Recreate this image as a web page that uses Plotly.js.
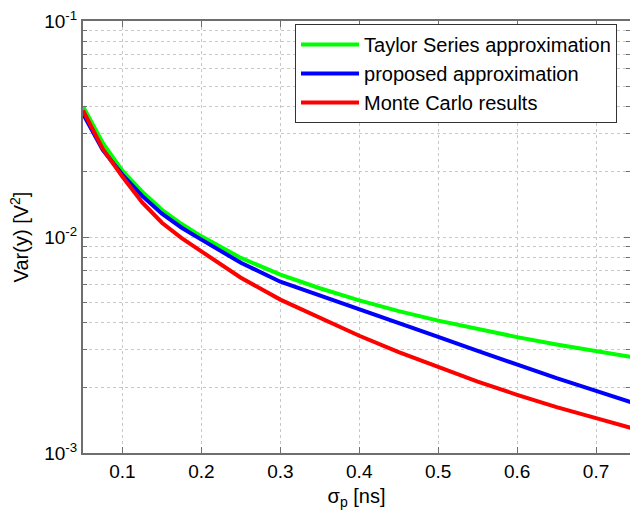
<!DOCTYPE html>
<html>
<head>
<meta charset="utf-8">
<script src="https://cdn.plot.ly/plotly-3.0.1.min.js"></script>
<style>html,body{margin:0;padding:0;background:#fff;}#chart{width:630px;height:514px;}</style>
</head>
<body>
<div id="chart"></div>
<script>
// sigma_p [ns]
const sigmaP = [0.05, 0.075, 0.1, 0.125, 0.15, 0.175, 0.2, 0.25, 0.3, 0.35, 0.4, 0.45, 0.5, 0.55, 0.6, 0.65, 0.7, 0.75];
// Var(y) [V^2]
const taylorSeries   = [0.0402, 0.0273, 0.02025, 0.0162, 0.01337, 0.01148, 0.01007, 0.0080, 0.0067, 0.00579, 0.00509, 0.00454, 0.0041, 0.00374, 0.00344, 0.00318, 0.00296, 0.00276];
const proposedApprox = [0.0372, 0.0253, 0.0194, 0.0155, 0.01282, 0.01104, 0.00972, 0.0076, 0.00621, 0.00537, 0.00465, 0.00401, 0.00345, 0.00297, 0.00256, 0.00222, 0.00194, 0.00169];
const monteCarlo     = [0.0385, 0.0256, 0.0190, 0.01445, 0.01164, 0.00989, 0.00858, 0.00648, 0.00513, 0.00422, 0.00349, 0.00293, 0.00249, 0.00214, 0.00186, 0.00163, 0.00145, 0.00129];

const seriesNames = ['Taylor Series approximation', 'proposed approximation', 'Monte Carlo results'];
const xTickVals = [0.1, 0.2, 0.3, 0.4, 0.5, 0.6, 0.7];
const yTickVals = [0.001, 0.01, 0.1];
const yTickText = ['10<sup>-3</sup>', '10<sup>-2</sup>', '10<sup>-1</sup>'];
const yMinorVals = [0.002,0.003,0.004,0.005,0.006,0.007,0.008,0.009,0.02,0.03,0.04,0.05,0.06,0.07,0.08,0.09];

const font = 'Liberation Sans, Arial, sans-serif';
const gridCol = '#c8c8c8';
const axisCol = '#6e6e6e';

const traces = [
  {x: sigmaP, y: taylorSeries, name: seriesNames[0], mode: 'lines', line: {color: '#00ff00', width: 4}},
  {x: sigmaP, y: proposedApprox, name: seriesNames[1], mode: 'lines', line: {color: '#0000ff', width: 4}},
  {x: sigmaP, y: monteCarlo, name: seriesNames[2], mode: 'lines', line: {color: '#ff0000', width: 4}}
];

const layout = {
  width: 630, height: 514,
  margin: {l: 83, r: 0, t: 21, b: 61},
  paper_bgcolor: '#ffffff', plot_bgcolor: '#ffffff',
  font: {family: font, color: '#000', size: 19},
  showlegend: true,
  legend: {
    x: 0.3876, y: 0.993, xanchor: 'left', yanchor: 'top',
    bgcolor: '#ffffff', bordercolor: '#333333', borderwidth: 1,
    font: {family: font, size: 20, color: '#000'},
    itemwidth: 58,
    tracegroupgap: 0
  },
  xaxis: {
    range: [0.05, 0.743],
    tickmode: 'array', tickvals: xTickVals,
    ticks: 'inside', ticklen: 6, tickcolor: axisCol, tickwidth: 1,
    showline: true, linecolor: axisCol, linewidth: 2, mirror: 'ticks',
    showgrid: true, gridcolor: gridCol, griddash: 'dot', gridwidth: 1,
    zeroline: false,
    tickfont: {family: font, size: 19, color: '#000'},
    title: {text: 'σ<sub>p</sub> [ns]', font: {family: font, size: 20, color: '#000'}, standoff: 8}
  },
  yaxis: {
    type: 'log', range: [-3, -1],
    tickmode: 'array', tickvals: yTickVals, ticktext: yTickText,
    ticks: 'inside', ticklen: 6, tickcolor: axisCol, tickwidth: 1,
    showline: true, linecolor: axisCol, linewidth: 2, mirror: 'ticks',
    showgrid: true, gridcolor: gridCol, griddash: 'dot', gridwidth: 1,
    zeroline: false,
    minor: {tickmode: 'array', tickvals: yMinorVals, ticks: 'inside', ticklen: 4, tickcolor: axisCol,
            showgrid: true, gridcolor: gridCol, griddash: 'dot', gridwidth: 1},
    tickfont: {family: font, size: 19, color: '#000'},
    title: {text: 'Var(y) [V<sup>2</sup>]', font: {family: font, size: 20, color: '#000'}, standoff: 10}
  }
};

Plotly.newPlot('chart', traces, layout, {displayModeBar: false, staticPlot: true});
</script>
</body>
</html>
